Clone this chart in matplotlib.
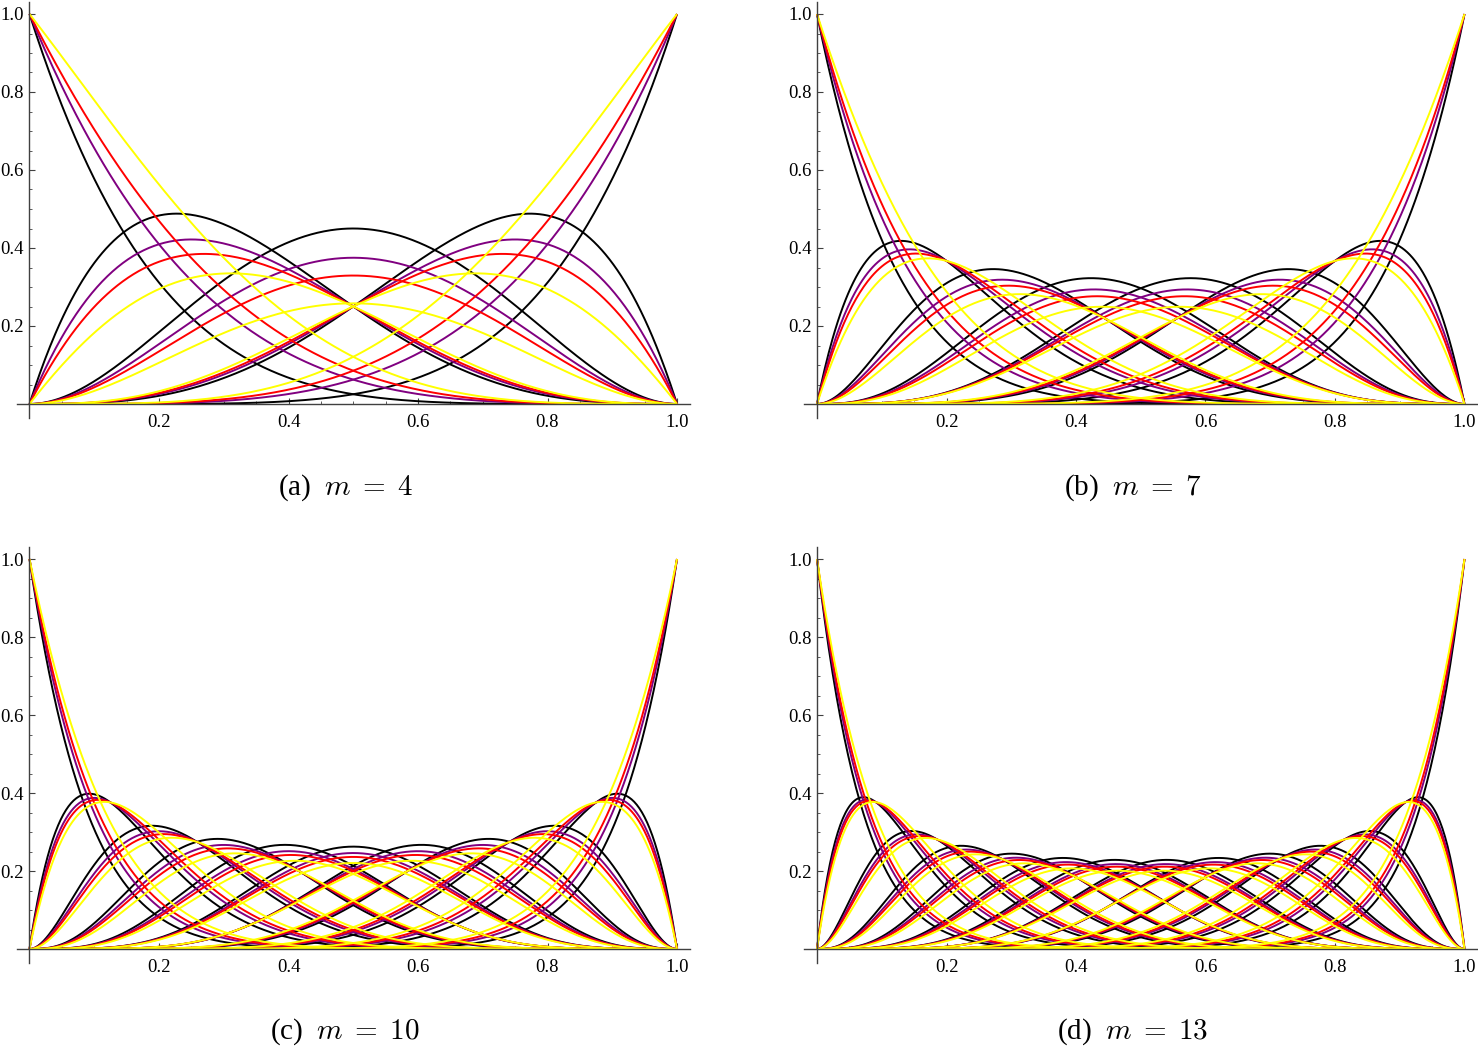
import numpy as np
import matplotlib
matplotlib.use("Agg")
import matplotlib.pyplot as plt
import matplotlib.ticker as mticker
from math import comb

# degree of each panel and its caption letter
degrees = [4, 7, 10, 13]
panel_letters = ["(a)", "(b)", "(c)", "(d)"]

# shape parameter of each curve family and its colour
shape_params = [-1.2, 0.0, 0.73, 1.87]
curve_colors = ["#000000", "#800080", "#ff0000", "#ffff00"]

plt.rcParams["font.family"] = ["Liberation Serif", "DejaVu Serif"]
plt.rcParams["mathtext.fontset"] = "cm"

W, H = 1478, 1047


def bern(n, i, x):
    if i < 0 or i > n:
        return np.zeros_like(x)
    return comb(n, i) * x**i * (1 - x)**(n - i)


def shaped_basis(n, i, c, x):
    # Bernstein basis plus a symmetric degree n+1 correction scaled by c
    a = lambda j: (n - 1 - 2 * j) / (n - 1)
    corr = 0.0
    if i <= n - 1:
        corr = corr + a(i) * bern(n - 1, i, x)
    if i >= 1:
        corr = corr - a(i - 1) * bern(n - 1, i - 1, x)
    return bern(n, i, x) + c * x * (1 - x) * corr


fig = plt.figure(figsize=(W / 100, H / 100), dpi=100)

xlo, xhi = -0.02, 1.02
ylo, yhi = -0.035, 1.03
sx, sy = 647.5, 390.0
origins = [(29.5, 404), (817, 404), (29.5, 949), (817, 949)]

x = np.linspace(0, 1, 500)

for k, n in enumerate(degrees):
    x0, y0 = origins[k]
    left = x0 + xlo * sx
    bottom = H - (y0 - ylo * sy)
    ax = fig.add_axes([left / W, bottom / H, (xhi - xlo) * sx / W, (yhi - ylo) * sy / H])

    for c, col in zip(shape_params, curve_colors):
        for i in range(n + 1):
            ax.plot(x, shaped_basis(n, i, c, x), color=col, lw=1.4, solid_capstyle="butt")

    ax.set_xlim(xlo, xhi)
    ax.set_ylim(ylo, yhi)
    for s in ["top", "right"]:
        ax.spines[s].set_visible(False)
    ax.spines["left"].set_position(("data", 0))
    ax.spines["bottom"].set_position(("data", 0))
    for s in ["left", "bottom"]:
        ax.spines[s].set_color("#404040")
        ax.spines[s].set_linewidth(1.0)

    ax.xaxis.set_major_locator(mticker.FixedLocator([0.2, 0.4, 0.6, 0.8, 1.0]))
    ax.yaxis.set_major_locator(mticker.FixedLocator([0.2, 0.4, 0.6, 0.8, 1.0]))
    ax.xaxis.set_minor_locator(mticker.FixedLocator(np.arange(1, 21) * 0.05))
    ax.yaxis.set_minor_locator(mticker.FixedLocator(np.arange(1, 21) * 0.05))
    ax.xaxis.set_major_formatter(mticker.FormatStrFormatter("%.1f"))
    ax.yaxis.set_major_formatter(mticker.FormatStrFormatter("%.1f"))
    ax.tick_params(which="major", direction="in", length=4, width=0.8, color="#404040",
                   labelsize=13.5)
    ax.tick_params(axis="x", which="major", pad=7)
    ax.tick_params(axis="y", which="major", pad=4)
    ax.tick_params(which="minor", direction="in", length=2.3, width=0.6, color="#404040")
    ax.patch.set_alpha(0)

    cx = (x0 + x0 + sx) / 2 - 8
    cy = 488 if k < 2 else 1032
    fig.text(cx / W, 1 - cy / H, panel_letters[k] + r"  $m\;=\;%d$" % n,
             ha="center", va="center", fontsize=21)

fig.savefig("out.png", dpi=100)
